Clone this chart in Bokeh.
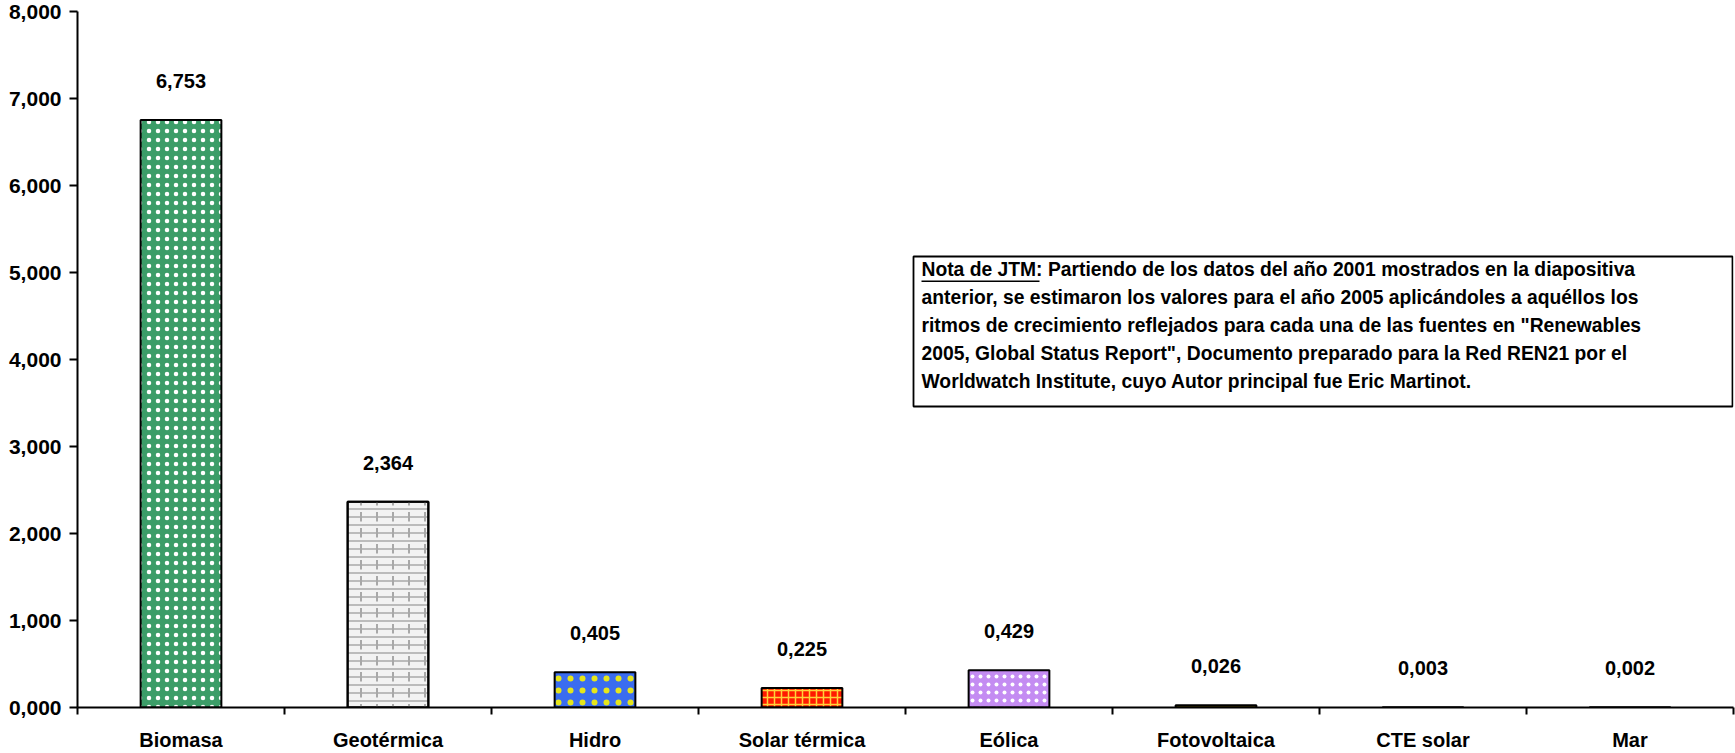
from bokeh.plotting import figure
from bokeh.models import ColumnDataSource, FixedTicker, Label, BoxAnnotation, Range1d
from bokeh.core.properties import value
from bokeh.embed import file_html
from bokeh.resources import INLINE

# ---- data ----
categories = ["Biomasa", "Geotérmica", "Hidro", "Solar térmica", "Eólica",
              "Fotovoltaica", "CTE solar", "Mar"]
values = [6.753, 2.364, 0.405, 0.225, 0.429, 0.026, 0.003, 0.002]
y_ticks = [0, 1, 2, 3, 4, 5, 6, 7, 8]
y_tick_labels = ["0,000", "1,000", "2,000", "3,000", "4,000", "5,000", "6,000", "7,000", "8,000"]
note_lines = [
    "Nota de JTM: Partiendo de los datos del año 2001 mostrados en la diapositiva",
    "anterior, se estimaron los valores para el año 2005 aplicándoles a aquéllos los",
    "ritmos de crecimiento reflejados para cada una de las fuentes en \"Renewables",
    "2005, Global Status Report\", Documento preparado para la Red REN21 por el",
    "Worldwatch Institute, cuyo Autor principal fue Eric Martinot.",
]

# ---- styles ----
fills = ["#3c9d68", "#f2f2f2", "#3a6cf0", "#ff1a00", "#c48cf2", "#e8c000", "#9999ff", "#99ccff"]
hatches = ["dot", "horizontal_line", "dot", "cross", "dot", " ", " ", " "]
hatch_colors = ["#ffffff", "#a8a8a8", "#e6e61a", "#ffd23a", "#ffffff", "#000000", "#000000", "#000000"]
hatch_scales = [9, 8, 12, 7, 8, 8, 8, 8]

FONT = "Liberation Sans"
n = len(categories)
xs = [i + 0.5 for i in range(n)]
labels = [f"{v:.3f}".replace(".", ",") for v in values]

src = ColumnDataSource(dict(x=xs, top=values, fill=fills, hatch=hatches,
                            hcolor=hatch_colors, hscale=hatch_scales, label=labels))

p = figure(width=1735, height=753, x_range=Range1d(0, n), y_range=Range1d(0, 8),
           output_backend="svg", toolbar_location=None,
           min_border_left=77, min_border_right=2, min_border_top=11, min_border_bottom=38)
p.outline_line_color = None
p.xgrid.visible = False
p.ygrid.visible = False
p.background_fill_color = "white"
p.border_fill_color = "white"

p.vbar(x="x", top="top", bottom=0, width=0.39, source=src,
       fill_color="fill", hatch_pattern="hatch", hatch_color="hcolor",
       hatch_scale="hscale", hatch_weight=1.5, line_color="black", line_width=2)

# brick overlay for Geotérmica
brick = ColumnDataSource(dict(x=[xs[1]], top=[values[1]]))
p.vbar(x="x", top="top", bottom=0, width=0.39, source=brick, fill_alpha=0,
       hatch_pattern="vertical_dash", hatch_color="#a8a8a8", hatch_scale=16,
       hatch_weight=2, line_color="black", line_width=2)

p.text(x="x", y="top", text="label", source=src, y_offset=-39,
       text_align="center", text_baseline="middle", text_font=value(FONT),
       text_font_style="bold", text_font_size="20px", text_color="black")

# axes
xa = p.xaxis[0]
xa.ticker = FixedTicker(ticks=xs, minor_ticks=list(range(n + 1)))
xa.major_label_overrides = {x: c for x, c in zip(xs, categories)}
xa.major_tick_out = 0
xa.major_tick_in = 0
xa.minor_tick_out = 7
xa.minor_tick_in = 0
xa.minor_tick_line_width = 2
xa.minor_tick_line_color = "black"
xa.axis_line_width = 2
xa.axis_line_color = "black"
xa.major_label_standoff = 14
xa.major_label_text_font = FONT
xa.major_label_text_font_style = "bold"
xa.major_label_text_font_size = "20px"
xa.major_label_text_color = "black"

ya = p.yaxis[0]
ya.ticker = FixedTicker(ticks=y_ticks)
ya.major_label_overrides = {t: l for t, l in zip(y_ticks, y_tick_labels)}
ya.major_tick_out = 8
ya.major_tick_in = 0
ya.major_tick_line_width = 2
ya.minor_tick_out = 0
ya.minor_tick_in = 0
ya.axis_line_width = 2
ya.axis_line_color = "black"
ya.major_label_standoff = 8
ya.major_label_text_font = FONT
ya.major_label_text_font_style = "bold"
ya.major_label_text_font_size = "21px"
ya.major_label_text_color = "black"

# note box (screen units relative to frame: x from left, y from bottom)
p.add_layout(BoxAnnotation(left=836, right=1655, top=451, bottom=301,
                           left_units="screen", right_units="screen",
                           top_units="screen", bottom_units="screen",
                           fill_color="white", fill_alpha=1,
                           line_color="black", line_width=1.8, line_alpha=1))
for i, line in enumerate(note_lines):
    p.add_layout(Label(x=844, y=438 - 28 * i, x_units="screen", y_units="screen",
                       text=line, text_font=FONT, text_font_style="bold",
                       text_font_size="19.3px", text_color="black",
                       text_baseline="middle", text_align="left"))
# underline for "Nota de JTM:"
p.add_layout(BoxAnnotation(left=844, right=962, top=427, bottom=425.5,
                           left_units="screen", right_units="screen",
                           top_units="screen", bottom_units="screen",
                           fill_color="black", fill_alpha=1, line_alpha=0))

open("out.html", "w").write(file_html(p, INLINE))
